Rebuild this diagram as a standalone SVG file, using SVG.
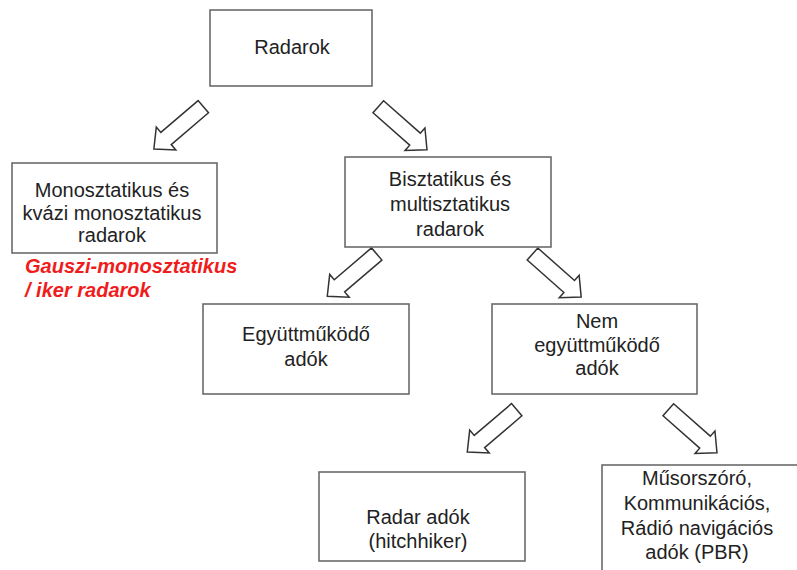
<svg xmlns="http://www.w3.org/2000/svg" xmlns:xlink="http://www.w3.org/1999/xlink" width="797" height="570" viewBox="0 0 797 570">
<style>
.box{fill:#fff;stroke:#6b6b6b;stroke-width:1.6}
.t{font-family:"Liberation Sans",Arial,sans-serif;font-size:20px;fill:#222;text-anchor:middle}
.red{font-family:"Liberation Sans",Arial,sans-serif;font-size:20px;fill:#f01c1c;font-weight:bold;font-style:italic}
.arr{fill:#fff;stroke:#333;stroke-width:1.5;stroke-linejoin:miter}
</style>
<defs>
<polygon id="ba" class="arr" points="0,-8 49,-8 49,-15 65,0 49,15 49,8 0,8"/>
</defs>
<rect width="797" height="570" fill="#fff"/>
<g id="connectors">
<use xlink:href="#ba" transform="translate(203.3,106.7) rotate(139.5)"/>
<use xlink:href="#ba" transform="translate(378.3,106.7) rotate(41.5)"/>
<use xlink:href="#ba" transform="translate(376.7,254) rotate(139.5)"/>
<use xlink:href="#ba" transform="translate(532.5,254) rotate(41.5)"/>
<use xlink:href="#ba" transform="translate(516.7,409.7) rotate(139.5)"/>
<use xlink:href="#ba" transform="translate(668.3,409.7) rotate(41.5)"/>
</g>
<g id="radarok">
<rect class="box" x="210" y="10" width="162" height="76"/>
<text class="t" x="292" y="54">Radarok</text>
</g>
<g id="mono">
<rect class="box" x="12" y="163" width="205" height="90"/>
<text class="t" x="112" y="197">Monosztatikus és</text>
<text class="t" x="112" y="220">kvázi monosztatikus</text>
<text class="t" x="112" y="242">radarok</text>
</g>
<g id="gauszi">
<text class="red" x="25" y="273">Gauszi-monosztatikus</text>
<text class="red" x="25" y="297">/ iker radarok</text>
</g>
<g id="bi">
<rect class="box" x="345" y="157" width="206" height="90"/>
<text class="t" x="450" y="186">Bisztatikus és</text>
<text class="t" x="450" y="211">multisztatikus</text>
<text class="t" x="450" y="236">radarok</text>
</g>
<g id="egyutt">
<rect class="box" x="203" y="304" width="206" height="90"/>
<text class="t" x="306" y="341">Együttműködő</text>
<text class="t" x="306" y="366">adók</text>
</g>
<g id="nem">
<rect class="box" x="492" y="304" width="205" height="90"/>
<text class="t" x="597" y="328">Nem</text>
<text class="t" x="597" y="352">együttműködő</text>
<text class="t" x="597" y="375">adók</text>
</g>
<g id="radaradok">
<rect class="box" x="319" y="472" width="206" height="89"/>
<text class="t" x="418" y="524">Radar adók</text>
<text class="t" x="418" y="548">(hitchhiker)</text>
</g>
<g id="musor">
<rect class="box" x="602" y="465" width="205" height="115"/>
<text class="t" x="697" y="485">Műsorszóró,</text>
<text class="t" x="697" y="510">Kommunikációs,</text>
<text class="t" x="697" y="535">Rádió navigációs</text>
<text class="t" x="697" y="559">adók (PBR)</text>
</g>
</svg>
